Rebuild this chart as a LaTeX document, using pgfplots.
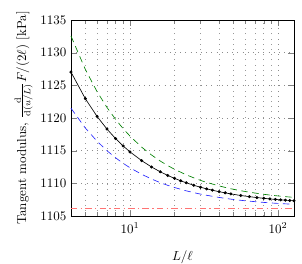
\documentclass[border=0pt]{standalone}
\usepackage{pgfplots}
\pgfplotsset{compat=1.18}
\begin{document}
\begin{tikzpicture}
\begin{axis}[
  scale only axis,
  width=171.5pt, height=150.8pt,
  xmode=log,
  xmin=4, xmax=128,
  ymin=1105, ymax=1135,
  ytick={1105,1110,...,1135},
  yticklabel style={/pgf/number format/.cd,fixed,1000 sep={}},
  xticklabel style={yshift=-1.5pt},
  grid=both,
  major grid style={black!45, line width=0.5pt, dash pattern=on 0.5pt off 3.5pt},
  minor grid style={black!40, line width=0.5pt, dash pattern=on 0.5pt off 3.5pt},
  xlabel={$L/\ell$},
  xlabel style={yshift=-7pt},
  ylabel={Tangent modulus, $\frac{\mathrm{d}}{\mathrm{d}(u/L)}F/(2\ell)$ [kPa]},
  ylabel style={yshift=-1pt},
  clip=false,
]
\addplot[green!50!black, line width=0.5pt, dash pattern=on 5pt off 3.5pt] coordinates {
(4,1132.55) (5,1127.44) (6,1124.04) (7,1121.62) (8,1119.80) (9,1118.38) (10,1117.25)
(12,1115.55) (14,1114.34) (16,1113.43) (18,1112.72) (20,1112.16) (24,1111.31)
(28,1110.70) (32,1110.24) (40,1109.61) (48,1109.18) (56,1108.88) (64,1108.65)
(80,1108.33) (96,1108.12) (112,1107.97) (128,1107.86)};
\addplot[blue!85!white, line width=0.5pt, dash pattern=on 5pt off 3.5pt] coordinates {
(4,1121.50) (5,1118.47) (6,1116.45) (7,1115.00) (8,1113.92) (9,1113.07) (10,1112.40)
(12,1111.39) (14,1110.67) (16,1110.12) (18,1109.70) (20,1109.37) (24,1108.86)
(28,1108.50) (32,1108.23) (40,1107.85) (48,1107.59) (56,1107.41) (64,1107.28)
(80,1107.09) (96,1106.96) (112,1106.87) (128,1106.80)};
\addplot[red!55!white, line width=0.6pt, dash pattern=on 5pt off 2.5pt on 1pt off 2.5pt] coordinates {
(4,1106.15) (128,1106.15)};
\addplot[black, line width=0.5pt, mark=*, mark size=0.9pt] coordinates {
(4,1127.03) (5,1122.96) (6,1120.25) (7,1118.31) (8,1116.86) (9,1115.73) (10,1114.83)
(12,1113.48) (14,1112.51) (16,1111.78) (18,1111.22) (20,1110.77) (22,1110.40)
(24,1110.09) (27,1109.71) (30,1109.41) (33,1109.16) (36,1108.96) (40,1108.73)
(44,1108.55) (48,1108.39) (56,1108.15) (64,1107.97) (72,1107.83) (80,1107.72)
(88,1107.62) (96,1107.55) (104,1107.48) (112,1107.43) (120,1107.38) (128,1107.34)};
\coordinate (sw) at (rel axis cs:0,0);
\coordinate (ne) at (rel axis cs:1,1);
\end{axis}
\pgfresetboundingbox
\path[use as bounding box] ([shift={(-54.6pt,-36.2pt)}]sw) rectangle ([shift={(6.2pt,15.4pt)}]ne);
\end{tikzpicture}
\end{document}
